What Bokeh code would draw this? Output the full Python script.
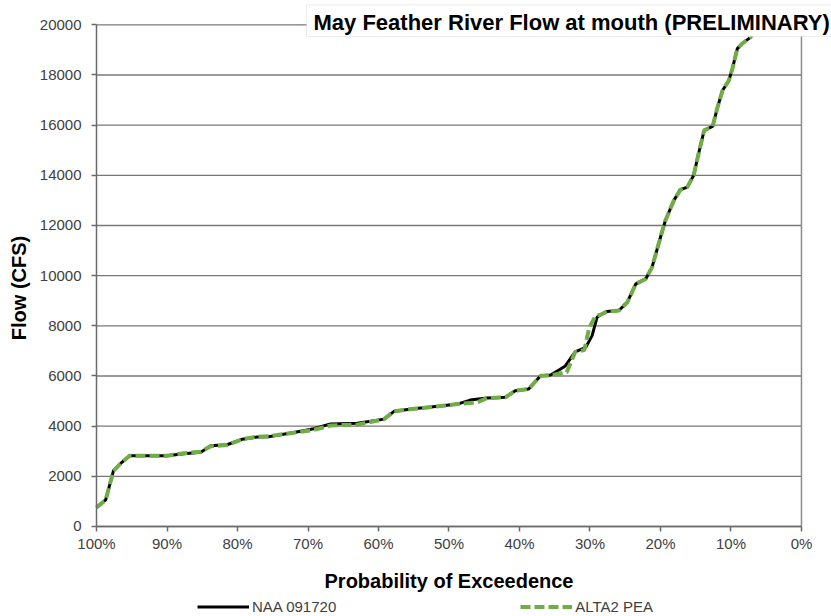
import math
from bokeh.plotting import figure
from bokeh.models import (Range1d, FixedTicker, PrintfTickFormatter, Label,
                          Legend, LegendItem, BoxAnnotation, AllLabels)
from bokeh.embed import file_html
from bokeh.resources import INLINE

# ---- data (probability of exceedence in %, flow in CFS) ----
exceed_naa = [100, 98.7, 97.6, 96.4, 95.3, 93, 90, 87.6, 85.2, 83.8, 81.5, 79.3,
              77.2, 75.6, 72, 69.2, 66.8, 63, 59.2, 57.8, 55, 51.2, 48.8, 47,
              44.6, 42, 40.6, 38.7, 37, 35.6, 34.4, 33.5, 32.1, 30.6, 29.7, 29,
              28.5, 27.6, 25.9, 24.7, 23.5, 22.1, 21.2, 20, 19.3, 18.1, 17.2,
              16.2, 15.3, 14.6, 13.8, 12.6, 11.9, 11.2, 10.3, 9.8, 9.1, 8.4, 7.2,
              6.2]
flow_naa = [760, 1060, 2220, 2560, 2820, 2820, 2820, 2900, 2960, 3220, 3260, 3480,
            3570, 3580, 3750, 3900, 4090, 4120, 4280, 4590, 4690, 4800, 4880, 5040,
            5120, 5150, 5410, 5480, 6010, 6040, 6240, 6400, 6960, 7140, 7610, 8340,
            8440, 8570, 8610, 8940, 9670, 9870, 10330, 11530, 12200, 13000, 13420,
            13530, 13990, 14860, 15790, 15950, 16720, 17380, 17780, 18250, 19050,
            19250, 19510, 20300]

exceed_alt = [100, 98.7, 97.6, 96.4, 95.3, 93, 90, 87.6, 85.2, 83.8, 81.5, 79.3,
              77.2, 75.6, 72, 69.2, 66.8, 63, 59.2, 57.8, 55, 51.2, 48.8, 46,
              44.6, 42, 40.6, 38.7, 37, 35.6, 33.3, 32.1, 30.8, 30.1, 29.2,
              28.5, 27.6, 25.9, 24.7, 23.5, 22.1, 21.2, 20, 19.3, 18.1, 17.2,
              16.2, 15.3, 14.6, 13.8, 12.6, 11.9, 11.2, 10.3, 9.8, 9.1, 8.4, 7.2,
              6.2]
flow_alt = [760, 1060, 2220, 2560, 2820, 2820, 2820, 2920, 2980, 3200, 3250, 3480,
            3580, 3600, 3740, 3850, 4030, 4060, 4280, 4590, 4690, 4800, 4880, 4950,
            5120, 5150, 5410, 5480, 6010, 6020, 6150, 6960, 7030, 7940, 8400,
            8440, 8570, 8610, 8940, 9670, 9870, 10330, 11530, 12200, 13000, 13420,
            13530, 13990, 14860, 15790, 15950, 16720, 17380, 17780, 18250, 19050,
            19250, 19510, 20300]

x_ticks = [100, 90, 80, 70, 60, 50, 40, 30, 20, 10, 0]
y_ticks = [0, 2000, 4000, 6000, 8000, 10000, 12000, 14000, 16000, 18000, 20000]

title_text = "May Feather River Flow at mouth (PRELIMINARY)"
x_title = "Probability of Exceedence"
y_title = "Flow (CFS)"
name_naa = "NAA 091720"
name_alt = "ALTA2 PEA"

FONT = "Liberation Sans"
TICK_COLOR = "#404040"
AXIS_COLOR = "#6a6a6a"
GRID_COLOR = "#787878"

X_MIN, X_MAX = 0, 100
Y_MIN, Y_MAX = 0, 20000

# The frame spans the whole canvas; both axes sit at fixed data positions so
# that titles, legend and the boxed chart title can be drawn inside the frame.
p = figure(width=831, height=616, output_backend="svg", toolbar_location=None,
           x_range=Range1d(113.62, -4.26), y_range=Range1d(-3588, 20969),
           min_border_left=0, min_border_right=0, min_border_top=0,
           min_border_bottom=0)
p.background_fill_color = "white"
p.border_fill_color = "white"
p.outline_line_color = None
p.xgrid.visible = False
p.ygrid.visible = False

# horizontal grid lines, x axis line and right border of the plot area
p.segment(x0=[X_MAX] * len(y_ticks), y0=y_ticks, x1=[X_MIN] * len(y_ticks),
          y1=y_ticks, line_color=GRID_COLOR, line_width=1.3)
p.segment(x0=[X_MIN], y0=[Y_MIN], x1=[X_MIN], y1=[Y_MAX],
          line_color="#8c8c8c", line_width=1.5)
p.segment(x0=[X_MAX], y0=[Y_MIN], x1=[X_MIN], y1=[Y_MIN],
          line_color=AXIS_COLOR, line_width=1.5)

# axes
p.xaxis.ticker = FixedTicker(ticks=x_ticks)
p.xaxis.formatter = PrintfTickFormatter(format="%d%%")
p.xaxis.fixed_location = Y_MIN
p.xaxis.axis_line_color = None
p.xaxis.major_label_policy = AllLabels()
p.yaxis.ticker = FixedTicker(ticks=y_ticks)
p.yaxis.formatter = PrintfTickFormatter(format="%d")
p.yaxis.bounds = (Y_MIN, Y_MAX)
p.yaxis.fixed_location = X_MAX
p.yaxis.axis_line_color = AXIS_COLOR
p.yaxis.axis_line_width = 1.5
for ax in (p.xaxis, p.yaxis):
    ax.major_tick_line_color = AXIS_COLOR
    ax.major_tick_line_width = 1.5
    ax.major_tick_in = 0
    ax.major_tick_out = 5
    ax.minor_tick_line_color = None
    ax.major_label_text_font = FONT
    ax.major_label_text_font_size = "15px"
    ax.major_label_text_color = TICK_COLOR
p.yaxis.major_label_standoff = 10
p.xaxis.major_label_standoff = 4

# lines
r_naa = p.line(exceed_naa, flow_naa, line_color="black", line_width=3)
r_alt = p.line(exceed_alt, flow_alt, line_color="#70ad47", line_width=4,
               line_dash="10 4")

# axis titles
p.add_layout(Label(x=111.0, y=9508, text=y_title, angle=math.pi / 2,
                   text_font=FONT, text_font_size="20px", text_font_style="bold",
                   text_align="center", text_baseline="middle",
                   text_color="black"))
p.add_layout(Label(x=50, y=-2153, text=x_title, text_font=FONT,
                   text_font_size="20px", text_font_style="bold",
                   text_align="center", text_baseline="middle",
                   text_color="black"))

# legend
legend = Legend(items=[LegendItem(label=name_naa, renderers=[r_naa]),
                       LegendItem(label=name_alt, renderers=[r_alt])],
                location=(197, 1), orientation="horizontal", padding=0,
                margin=0, spacing=184, glyph_width=52, glyph_height=17,
                label_height=17, label_standoff=3,
                label_text_font=FONT, label_text_font_size="15px",
                label_text_color=TICK_COLOR, border_line_color=None,
                background_fill_alpha=0)
p.add_layout(legend)

# boxed chart title over the top of the plot area
p.add_layout(BoxAnnotation(left=70.21, right=-10, bottom=19534, top=20797,
                           fill_color="white", fill_alpha=1.0,
                           line_color="#bfbfbf", line_width=1))
p.add_layout(Label(x=69.22, y=20104, text=title_text, text_font=FONT,
                   text_font_size="22px", text_font_style="bold",
                   text_align="left", text_baseline="middle",
                   text_color="black"))

open("out.html", "w").write(file_html(p, INLINE))
